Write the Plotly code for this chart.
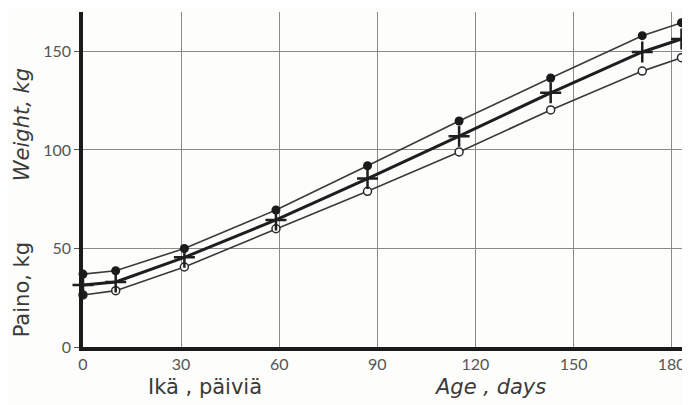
import plotly.graph_objects as go

days = [0, 10, 31, 59, 87, 115, 143, 171, 183]
weight_high = [37, 38.7, 50, 69.5, 92, 114.7, 136.5, 158, 164.6]
weight_mean = [31.5, 33, 45.5, 64.5, 85.5, 107, 129, 149.7, 156.3]
weight_low = [26.4, 28.6, 40.6, 60, 79, 99, 120.3, 140, 146.8]
x_ticks = [0, 30, 60, 90, 120, 150, 180]
y_ticks = [0, 50, 100, 150]

fig = go.Figure()
fig.add_trace(go.Scatter(
    x=days, y=weight_high, mode="lines+markers",
    line=dict(color="#3a3a3a", width=1.6),
    marker=dict(symbol="circle", size=9, color="#1a1a1a"),
    cliponaxis=False, showlegend=False))
fig.add_trace(go.Scatter(
    x=days, y=weight_low, mode="lines+markers",
    line=dict(color="#3a3a3a", width=1.6),
    marker=dict(symbol="circle", size=8,
                color=["#1a1a1a"] + ["white"] * (len(days) - 1),
                line=dict(color="#2a2a2a", width=1.5)),
    cliponaxis=False, showlegend=False))
fig.add_trace(go.Scatter(
    x=days, y=weight_mean, mode="lines+markers",
    line=dict(color="#1e1e1e", width=3),
    marker=dict(symbol="cross-thin-open", size=15,
                line=dict(color="#1e1e1e", width=2.5)),
    cliponaxis=False, showlegend=False))

title_font = dict(family="DejaVu Sans", size=21, color="#3a3a3a")
italic_font = dict(family="DejaVu Sans", size=21, color="#3a3a3a", style="italic")
common = dict(xref="paper", yref="paper", showarrow=False, xanchor="center", yanchor="middle")
fig.add_annotation(x=0.201, y=-0.118, text="Ikä , päiviä", font=title_font, **common)
fig.add_annotation(x=0.670, y=-0.118, text="Age , days", font=italic_font, **common)
fig.add_annotation(x=-0.100, y=0.170, text="Paino, kg", textangle=-90, font=title_font, **common)
fig.add_annotation(x=-0.100, y=0.663, text="Weight, kg", textangle=-90, font=italic_font, **common)

fig.update_layout(
    width=682, height=397,
    margin=dict(l=75, r=0, t=4, b=58),
    paper_bgcolor="#fdfdfb", plot_bgcolor="#fdfdfb",
    xaxis=dict(range=[0, 185.6], tickvals=x_ticks, ticktext=[str(v) for v in x_ticks],
               showgrid=True, gridcolor="#8a8a8a", gridwidth=1,
               showline=True, linecolor="#1a1a1a", linewidth=3.5,
               zeroline=False, ticks="", tickfont=dict(family="Lato", size=16, color="#555")),
    yaxis=dict(range=[0, 170], tickvals=y_ticks, ticktext=[str(v) for v in y_ticks],
               showgrid=True, gridcolor="#8a8a8a", gridwidth=1,
               showline=True, linecolor="#1a1a1a", linewidth=3.5,
               zeroline=False, ticks="outside", ticklen=5, tickcolor="#555",
               tickfont=dict(family="Lato", size=16, color="#555")),
)
fig.write_html("out.html")
